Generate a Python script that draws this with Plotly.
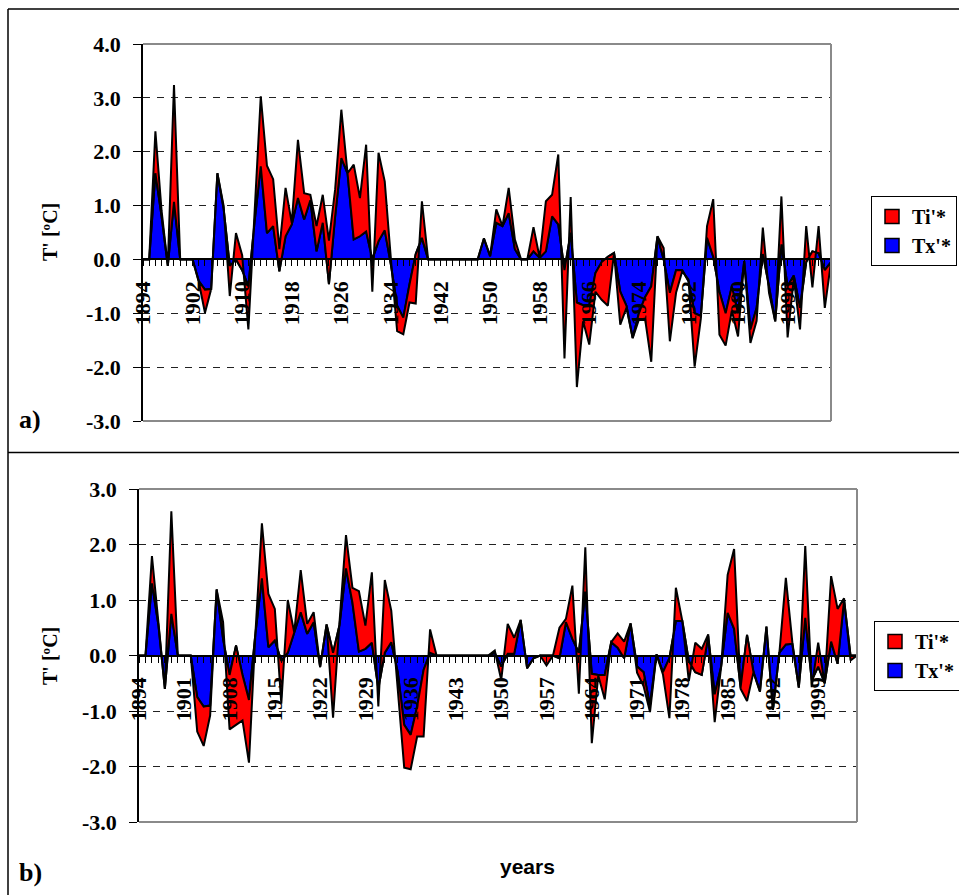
import plotly.graph_objects as go

# ---------------- data ----------------
years = list(range(1894, 2006))

# panel a) - Tx'* (blue) and the Ti'* band drawn on top of it (upper black line)
tx_a = [0, 0, 1.6, 0.8, -0.12, 1.07, 0, 0, 0, -0.4,
        -0.56, -0.55, 1.6, 0.95, -0.12, 0.0, -0.2, -0.5, 0.7, 1.73,
        0.49, 0.62, -0.22, 0.43, 0.65, 1.14, 0.74, 1.1, 0.15, 0.68,
        -0.46, 0.8, 1.88, 1.6, 0.37, 0.43, 0.52, 0.0, 0.34, 0.54,
        -0.1, -0.86, -1.08, -0.46, 0.1, 0.4, 0, 0, 0, 0,
        0, 0, 0, 0, 0, 0.39, 0.06, 0.68, 0.62, 0.86,
        0.19, 0, 0, 0.15, 0.03, 0.15, 0.8, 0.65, -0.2, 0.5,
        -0.8, -0.85, -0.85, -0.25, -0.05, 0.05, 0.12, -0.6, -0.86, -1.46,
        -1.0, -0.7, -0.5, 0.43, 0.0, -0.62, -0.2, -0.2, -0.4, -1.0,
        -1.05, 0.4, 0.05, -0.6, -1.0, -0.5, -1.0, -0.03, -1.3, -0.9,
        0.1, -0.5, -1.15, 0.28, -0.5, -0.3, -0.9, -0.05, 0.15, 0.12,
        -0.2, -0.05]
ti_top_a = [0, 0, 2.38, 0.9, -0.12, 3.24, 0, 0, 0, -0.42,
            -0.99, -0.55, 1.6, 1.0, -0.68, 0.49, 0.08, -1.3, 0.9, 3.03,
            1.74, 1.49, 0.19, 1.33, 0.68, 2.22, 1.23, 1.2, 0.62, 1.2,
            0.35, 1.3, 2.78, 1.6, 1.76, 1.14, 2.13, -0.6, 1.98, 1.45,
            0.0, -1.33, -1.39, -0.8, -0.82, 1.08, 0, 0, 0, 0,
            0, 0, 0, 0, 0, 0.39, 0.06, 0.93, 0.62, 1.33,
            0.37, 0, 0, 0.6, 0.03, 1.08, 1.2, 1.95, -1.84, 1.16,
            -2.37, -1.15, -1.58, -0.6, -0.75, -0.86, 0.12, -1.21, -0.9, -1.46,
            -1.12, -1.1, -1.9, 0.43, 0.21, -1.52, -0.62, -0.22, -0.37, -1.99,
            -1.1, 0.62, 1.12, -1.4, -1.6, -0.95, -1.43, -0.03, -1.55, -1.14,
            0.59, -0.62, -1.15, 1.17, -1.45, -0.35, -1.3, 0.62, -0.52, 0.62,
            -0.9, -0.05]

# panel b)
tx_b = [0, 0, 1.3, 0.55, -0.6, 0.75, 0, 0, 0, -0.75,
        -0.92, -0.9, 1.19, 0.3, -0.35, 0.18, -0.35, -0.8, 0.4, 1.39,
        0.15, 0.27, -0.1, 0.05, 0.42, 0.78, 0.39, 0.6, -0.21, 0.56,
        0.05, 0.55, 1.57, 0.95, 0.07, 0.12, 0.23, -0.6, 0.05, 0.24,
        -0.3, -1.25, -1.43, -0.92, -0.26, 0.05, 0, 0, 0, 0,
        0, 0, 0, 0, 0, 0.05, -0.2, 0.03, 0.03, 0.64,
        -0.23, -0.05, 0, 0, 0, -0.05, 0.6, 0.3, 0.05, 1.15,
        -0.33, -0.35, -0.35, 0.24, 0.14, -0.05, 0.58, -0.2, -0.3, -0.9,
        0.02, -0.3, -0.05, 0.62, 0.62, -0.1, -0.3, -0.35, 0.35, -0.7,
        -0.2, 0.77, 0.48, -0.58, 0.37, -0.3, -0.65, 0.52, -0.98, 0.05,
        0.2, 0.21, -0.58, 0.68, -0.45, -0.2, -0.5, 0.25, -0.15, 1.0,
        0.0, 0.0]
ti_top_b = [0, 0, 1.79, 0.6, -0.6, 2.6, 0, 0, 0, -1.37,
            -1.63, -1.08, 1.19, 0.6, -1.33, -1.25, -1.17, -1.93, 0.4, 2.38,
            1.11, 0.84, -0.87, 1.0, 0.42, 1.54, 0.57, 0.78, -0.21, 0.56,
            -1.12, 0.6, 2.17, 1.22, 1.16, 0.54, 1.5, -0.92, 1.36, 0.81,
            -0.55, -2.02, -2.05, -1.46, -1.46, 0.47, 0, 0, 0, 0,
            0, 0, 0, 0, 0, 0.09, -0.44, 0.57, 0.32, 0.64,
            -0.23, -0.05, 0, -0.18, 0, 0.5, 0.66, 1.26, -0.69, 1.95,
            -1.58, -0.36, -0.79, 0.24, 0.4, 0.25, 0.58, -0.31, -0.55, -1.02,
            0.02, -0.34, -1.13, 1.22, 0.62, -0.46, 0.23, 0.12, 0.38, -1.2,
            -0.2, 1.45, 1.92, -0.6, -0.82, -0.3, -0.65, 0.52, -0.98, 0.05,
            1.4, 0.24, -0.58, 1.97, -0.57, 0.23, -0.5, 1.43, 0.84, 1.03,
            -0.09, 0.0]

series_names = ["Ti'*", "Tx'*"]
ytick_vals_a = [-3, -2, -1, 0, 1, 2, 3, 4]
ytick_text_a = ["-3.0", "-2.0", "-1.0", "0.0", "1.0", "2.0", "3.0", "4.0"]
ytick_vals_b = [-3, -2, -1, 0, 1, 2, 3]
ytick_text_b = ["-3.0", "-2.0", "-1.0", "0.0", "1.0", "2.0", "3.0"]
xlabel_step_a = 8
xlabel_step_b = 7

# ---------------- layout helpers ----------------
W, H = 959, 895
def px(x):
    return x / W
def py(y):
    return 1 - y / H

RED = "#FF0000"
BLUE = "#0000FF"
SERIF = "Liberation Serif"

dom_a_x = [px(143), px(831)]
dom_a_y = [py(421), py(44)]
dom_b_x = [px(139), px(857)]
dom_b_y = [py(822), py(489)]
rng_a = [-3, 4]
rng_b = [-3, 3]

def zero_pos(dom, rng):
    return dom[0] + (0 - rng[0]) / (rng[1] - rng[0]) * (dom[1] - dom[0])

fig = go.Figure()

def add_panel(tx, top, xa, ya, leg):
    fig.add_trace(go.Scatter(
        x=years, y=tx, xaxis=xa, yaxis=ya, mode="lines",
        line=dict(color="black", width=2), fill="tozeroy",
        fillcolor=BLUE, showlegend=False, hoverinfo="skip"))
    fig.add_trace(go.Scatter(
        x=years + years[::-1], y=top + tx[::-1], xaxis=xa, yaxis=ya,
        mode="lines", line=dict(color="black", width=2), fill="toself",
        fillcolor=RED, showlegend=False, hoverinfo="skip"))
    for name, col in zip(series_names, [RED, BLUE]):
        fig.add_trace(go.Scatter(
            x=[None], y=[None], xaxis=xa, yaxis=ya, mode="markers", name=name,
            marker=dict(symbol="square", size=14, color=col,
                        line=dict(color="black", width=1.5)),
            legend=leg))

add_panel(tx_a, ti_top_a, "x", "y", "legend")
add_panel(tx_b, ti_top_b, "x2", "y2", "legend2")

tickfont_x = dict(family=SERIF, size=22, color="black", weight="bold")
tickfont_y = dict(family=SERIF, size=22, color="black", weight="bold")

def xaxis_cfg(dom, pos, step):
    return dict(
        domain=dom, range=[years[0], years[-1]], anchor="free", position=pos,
        showline=True, linecolor="black", linewidth=2,
        tickmode="linear", tick0=years[0], dtick=step,
        ticks="outside", ticklen=6, tickwidth=1, tickcolor="black",
        tickangle=-90, tickfont=tickfont_x, ticklabelstandoff=6,
        minor=dict(tickmode="linear", tick0=years[0], dtick=1, ticks="outside",
                   ticklen=6, tickwidth=1, tickcolor="black", showgrid=False),
        showgrid=False, zeroline=False, fixedrange=True, automargin=False)

def yaxis_cfg(dom, rng, anchor, vals, text):
    return dict(
        domain=dom, range=rng, anchor=anchor,
        tickmode="array", tickvals=vals, ticktext=text,
        showline=True, linecolor="black", linewidth=1.5,
        ticks="outside", ticklen=8, tickwidth=1, tickcolor="black",
        tickfont=tickfont_y, ticklabelstandoff=8,
        showgrid=True, gridcolor="#222222", gridwidth=1, griddash="7px,7px",
        zeroline=False, fixedrange=True, automargin=False)

legend_font = dict(family=SERIF, size=20, color="black", weight="bold")

fig.update_layout(
    width=W, height=H, autosize=False,
    margin=dict(l=0, r=0, t=0, b=0, autoexpand=False),
    paper_bgcolor="white", plot_bgcolor="white",
    xaxis=xaxis_cfg(dom_a_x, zero_pos(dom_a_y, rng_a), xlabel_step_a),
    yaxis=yaxis_cfg(dom_a_y, rng_a, "x", ytick_vals_a, ytick_text_a),
    xaxis2=xaxis_cfg(dom_b_x, zero_pos(dom_b_y, rng_b), xlabel_step_b),
    yaxis2=yaxis_cfg(dom_b_y, rng_b, "x2", ytick_vals_b, ytick_text_b),
    legend=dict(x=px(871), y=py(196), xanchor="left", yanchor="top",
                xref="container", yref="container",
                bordercolor="black", borderwidth=1, bgcolor="white",
                font=legend_font, traceorder="normal", itemwidth=30),
    legend2=dict(x=px(874), y=py(621), xanchor="left", yanchor="top",
                 xref="container", yref="container",
                 bordercolor="black", borderwidth=1, bgcolor="white",
                 font=legend_font, traceorder="normal", itemwidth=30),
    showlegend=True,
)

shapes = []
grey = dict(color="#8a8a8a", width=2)
for xr, yr in [("x domain", "y domain"), ("x2 domain", "y2 domain")]:
    shapes.append(dict(type="line", xref=xr, yref=yr, x0=0, x1=1, y0=1, y1=1,
                       line=grey, layer="above"))
    shapes.append(dict(type="line", xref=xr, yref=yr, x0=1, x1=1, y0=0, y1=1,
                       line=grey, layer="above"))
    shapes.append(dict(type="line", xref=xr, yref=yr, x0=0, x1=1, y0=0, y1=0,
                       line=grey, layer="above"))
frame = dict(color="black", width=1.5)
shapes.append(dict(type="line", xref="paper", yref="paper",
                   x0=px(8), x1=1, y0=py(9), y1=py(9), line=frame))
shapes.append(dict(type="line", xref="paper", yref="paper",
                   x0=px(8), x1=px(8), y0=py(9), y1=0, line=frame))
shapes.append(dict(type="line", xref="paper", yref="paper",
                   x0=px(8), x1=1, y0=py(452.5), y1=py(452.5), line=frame))
fig.update_layout(shapes=shapes)

ann = []
ytitle_font = dict(family=SERIF, size=20, color="black", weight="bold")
ann.append(dict(text="T' [ºC]", x=px(50), y=py(232), xref="paper", yref="paper",
                textangle=-90, showarrow=False, font=ytitle_font,
                xanchor="center", yanchor="middle"))
ann.append(dict(text="T' [ºC]", x=px(50), y=py(656), xref="paper", yref="paper",
                textangle=-90, showarrow=False, font=ytitle_font,
                xanchor="center", yanchor="middle"))
panel_font = dict(family=SERIF, size=26, color="black", weight="bold")
ann.append(dict(text="a)", x=px(30), y=py(419), xref="paper", yref="paper",
                showarrow=False, font=panel_font, xanchor="center", yanchor="middle"))
ann.append(dict(text="b)", x=px(30), y=py(872), xref="paper", yref="paper",
                showarrow=False, font=panel_font, xanchor="center", yanchor="middle"))
ann.append(dict(text="years", x=px(527), y=py(866), xref="paper", yref="paper",
                showarrow=False,
                font=dict(family="Liberation Sans", size=21, color="black", weight="bold"),
                xanchor="center", yanchor="middle"))
fig.update_layout(annotations=ann)

fig.write_html("out.html",
               config={"displayModeBar": False},
               post_script="document.body.style.margin='0px';"
                           "document.body.style.overflow='hidden';")
